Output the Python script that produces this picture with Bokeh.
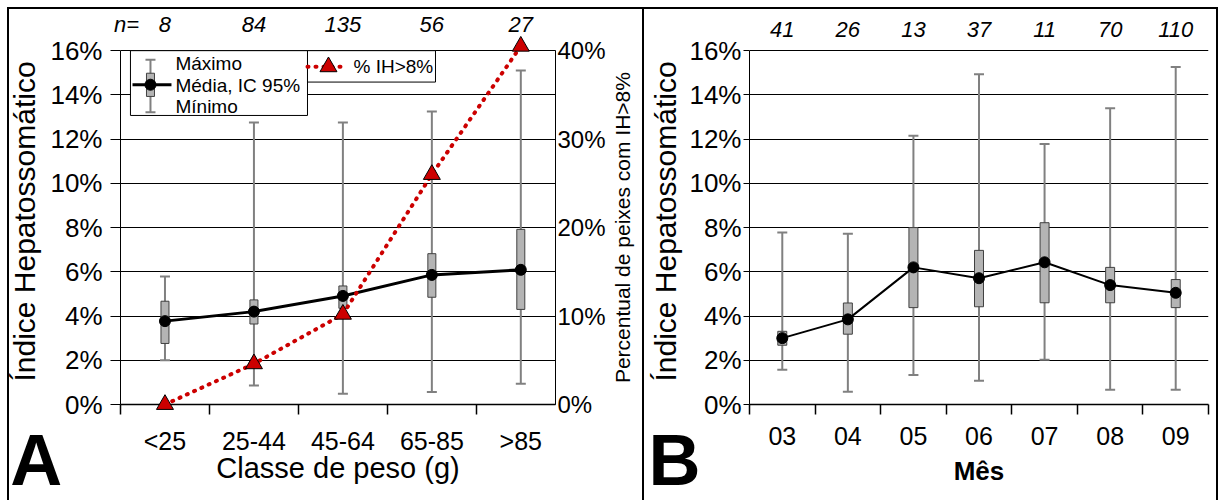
import math

from bokeh.plotting import figure
from bokeh.layouts import row
from bokeh.models import Range1d, LinearAxis, FixedTicker, PrintfTickFormatter, Grid
from bokeh.core.properties import value
from bokeh.embed import file_html
from bokeh.resources import INLINE

FONT = "Liberation Sans"

# ---------------- data ----------------
# Panel A: hepatosomatic index (%) by weight class
weight_classes = ["<25", "25-44", "45-64", "65-85", ">85"]
n_weight = [8, 84, 135, 56, 27]
mean_w = [3.77, 4.20, 4.91, 5.86, 6.09]
ci_low_w = [2.76, 3.64, 4.35, 4.85, 4.30]
ci_high_w = [4.67, 4.73, 5.36, 6.82, 7.92]
min_w = [2.00, 0.86, 0.49, 0.56, 0.94]
max_w = [5.79, 12.75, 12.75, 13.25, 15.10]
pct_above8 = [0.0, 4.6, 10.2, 26.0, 40.5]   # % of fish with IH > 8%

# Panel B: hepatosomatic index (%) by month
months = ["03", "04", "05", "06", "07", "08", "09"]
n_month = [41, 26, 13, 37, 11, 70, 110]
mean_m = [3.00, 3.85, 6.20, 5.71, 6.43, 5.40, 5.05]
ci_low_m = [2.68, 3.18, 4.38, 4.42, 4.60, 4.60, 4.38]
ci_high_m = [3.31, 4.59, 8.00, 6.97, 8.22, 6.20, 5.65]
min_m = [1.57, 0.58, 1.33, 1.07, 2.02, 0.67, 0.67]
max_m = [7.78, 7.72, 12.15, 14.93, 11.78, 13.40, 15.26]

y_ticks = [0, 2, 4, 6, 8, 10, 12, 14, 16]
pct_ticks = [0, 10, 20, 30, 40]

Y_TOP = 16.55
WHISKER = "#808080"
BOX_FILL = "#b4b4b4"
BOX_LINE = "#404040"
RED = "#cc0000"


def make_fig(width, x_end, border_left, border_right):
    p = figure(width=width, height=500, x_range=Range1d(0.5, x_end),
               y_range=Range1d(0, Y_TOP), output_backend="svg",
               toolbar_location=None, x_axis_type=None, y_axis_type=None,
               min_border_left=border_left, min_border_right=border_right,
               min_border_top=38, min_border_bottom=96)
    p.outline_line_color = None
    p.background_fill_color = "white"
    p.border_fill_color = None
    p.add_layout(Grid(dimension=1, ticker=FixedTicker(ticks=y_ticks),
                      grid_line_color="black", grid_line_width=1))
    return p


def style_y_axis(ax, label_size, tick_out):
    ax.axis_label_text_font = FONT
    ax.axis_label_text_font_size = "30px"
    ax.axis_label_text_font_style = "normal"
    ax.axis_label_text_color = "black"
    ax.major_label_text_font = FONT
    ax.major_label_text_font_size = label_size
    ax.major_label_text_color = "black"
    ax.axis_line_color = "black"
    ax.major_tick_line_color = "black"
    ax.major_tick_out = tick_out
    ax.major_tick_in = 0
    ax.minor_tick_line_color = None


def add_x_axis(p, labels, title, bold, title_standoff):
    k = len(labels)
    centers = list(range(1, k + 1))
    bounds_ticks = [c - 0.5 for c in centers] + ([k + 0.5] if bold else [])
    ax = LinearAxis(ticker=FixedTicker(ticks=centers, minor_ticks=bounds_ticks),
                    major_label_overrides={c: lab for c, lab in zip(centers, labels)})
    ax.axis_label = title
    ax.axis_label_text_font = FONT
    ax.axis_label_text_font_size = "26px" if bold else "29px"
    ax.axis_label_text_font_style = "bold" if bold else "normal"
    ax.axis_label_text_color = "black"
    ax.axis_label_standoff = title_standoff
    ax.major_label_text_font = FONT
    ax.major_label_text_font_size = "25px"
    ax.major_label_text_color = "black"
    ax.major_label_standoff = 12
    ax.axis_line_color = "black"
    ax.axis_line_width = 1.5
    ax.major_tick_line_color = None
    ax.major_tick_out = 0
    ax.major_tick_in = 0
    ax.minor_tick_line_color = "black"
    ax.minor_tick_line_width = 1.5
    ax.minor_tick_out = 10
    ax.minor_tick_in = 0
    p.add_layout(ax, "below")


def add_n_axis(p, counts, extra=None):
    ticks = list(range(1, len(counts) + 1))
    overrides = {t: str(c) for t, c in zip(ticks, counts)}
    if extra is not None:
        ticks = [extra[0]] + ticks
        overrides[extra[0]] = extra[1]
    ax = LinearAxis(ticker=FixedTicker(ticks=ticks), major_label_overrides=overrides)
    ax.axis_line_color = None
    ax.major_tick_line_color = None
    ax.minor_tick_line_color = None
    ax.major_tick_out = 0
    ax.major_tick_in = 0
    ax.major_label_standoff = 2
    ax.major_label_text_font = FONT
    ax.major_label_text_font_size = "22px"
    ax.major_label_text_font_style = "italic"
    ax.major_label_text_color = "black"
    p.add_layout(ax, "above")


def draw_stats(p, x, lo, hi, ci_lo, ci_hi, mean, box_w, mean_w_line):
    p.segment(x0=x, y0=lo, x1=x, y1=hi, line_color=WHISKER, line_width=2)
    p.scatter(x, hi, marker="dash", size=10, line_color=WHISKER, line_width=2)
    p.scatter(x, lo, marker="dash", size=10, line_color=WHISKER, line_width=2)
    p.vbar(x=x, bottom=ci_lo, top=ci_hi, width=box_w, fill_color=BOX_FILL,
           line_color=BOX_LINE, line_width=1)
    p.line(x, mean, line_color="black", line_width=mean_w_line)
    p.scatter(x, mean, marker="circle", size=11, fill_color="black", line_color="black")


def panel_letter(p, x, text):
    # overlay-level text is painted outside the plot frame as well
    p.text(x=[x], y=[-0.68], text=[text], text_font=value(FONT), text_font_size="72px",
           text_font_style="bold", text_color="black", text_baseline="top",
           text_align="left", level="overlay")


# ---------------- panel A ----------------
xa = list(range(1, len(weight_classes) + 1))
pa = make_fig(643, 5.39, 120, 88)
pa.extra_y_ranges = {"pct": Range1d(0, Y_TOP * 2.5)}

ya = LinearAxis(ticker=FixedTicker(ticks=y_ticks), formatter=PrintfTickFormatter(format="%d%%"),
                bounds=(0, 16), axis_label="Índice Hepatossomático")
style_y_axis(ya, "26px", 10)
ya.major_label_standoff = 8
ya.axis_label_standoff = 6
pa.add_layout(ya, "left")

ra = LinearAxis(y_range_name="pct",
                ticker=FixedTicker(ticks=pct_ticks, minor_ticks=[5, 15, 25, 35]),
                formatter=PrintfTickFormatter(format="%d%%"), bounds=(0, 40))
style_y_axis(ra, "24px", 0)
ra.major_tick_in = 6
ra.minor_tick_line_color = "black"
ra.minor_tick_in = 6
ra.minor_tick_out = 0
ra.major_label_standoff = 2
pa.add_layout(ra, "right")
# secondary axis title, reading bottom to top
pa.text(x=[6.143], y=[8.0], text=["Percentual de peixes com IH>8%"], angle=math.pi / 2,
        text_font=value(FONT), text_font_size="21px", text_color="black",
        text_align="center", text_baseline="middle", level="overlay")

add_x_axis(pa, weight_classes, "Classe de peso (g)", False, -6)
add_n_axis(pa, n_weight, extra=(0.567, "n="))

draw_stats(pa, xa, min_w, max_w, ci_low_w, ci_high_w, mean_w, 0.09, 3)
pa.line(xa, pct_above8, y_range_name="pct", line_color=RED, line_width=4,
        line_dash="1 7", line_cap="round")
pa.scatter(xa, pct_above8, y_range_name="pct", marker="triangle", size=17,
           fill_color=RED, line_color="black", line_width=1, level="overlay")

# legend (drawn in the left axis units)
pa.quad(left=[0.612, 2.602], right=[2.602, 4.041], top=[16.0, 16.0], bottom=[13.07, 14.58],
        fill_color="white", line_color="black", line_width=1)
pa.segment(x0=[0.837], y0=[13.22], x1=[0.837], y1=[15.59], line_color=WHISKER, line_width=2)
pa.scatter([0.837, 0.837], [13.22, 15.59], marker="dash", size=10, line_color=WHISKER, line_width=2)
pa.vbar(x=[0.837], bottom=[13.93], top=[14.98], width=0.09, fill_color=BOX_FILL,
        line_color=BOX_LINE, line_width=1)
pa.line([0.635, 1.073], [14.46, 14.46], line_color="black", line_width=3)
pa.scatter([0.837], [14.46], marker="circle", size=11, fill_color="black", line_color="black")
pa.text(x=[1.118, 1.118, 1.118], y=[15.43, 14.41, 13.46],
        text=["Máximo", "Média, IC 95%", "Mínimo"], text_font=value(FONT),
        text_font_size="19px", text_baseline="middle", text_align="left", text_color="black")
pa.line([2.602, 3.029], [15.27, 15.27], line_color=RED, line_width=4, line_dash="1 7", line_cap="round")
pa.scatter([2.838], [15.27], marker="triangle", size=17, fill_color=RED, line_color="black")
pa.text(x=[3.119], y=[15.27], text=["% IH>8%"], text_font=value(FONT),
        text_font_size="19px", text_baseline="middle", text_align="left", text_color="black")

panel_letter(pa, -0.74, "A")

# ---------------- panel B ----------------
xb = list(range(1, len(months) + 1))
pb = make_fig(579, 7.5, 106, 14)

yb = LinearAxis(ticker=FixedTicker(ticks=y_ticks), formatter=PrintfTickFormatter(format="%d%%"),
                bounds=(0, 16), axis_label="Índice Hepatossomático")
style_y_axis(yb, "26px", 6)
yb.major_label_standoff = 2
yb.axis_label_standoff = 4
pb.add_layout(yb, "left")

add_x_axis(pb, months, "Mês", True, 8)
add_n_axis(pb, n_month)

draw_stats(pb, xb, min_m, max_m, ci_low_m, ci_high_m, mean_m, 0.137, 2)

panel_letter(pb, -1.04, "B")

# panel frames: thin black rules around each panel, painted as the page background
black = "linear-gradient(#000, #000)"
layout = row(pa, pb, styles={
    "background-color": "white",
    "background-image": ", ".join([black] * 4),
    "background-size": "2px 100%, 1211px 2px, 2px 100%, 2px 100%",
    "background-position": "7px 7px, 7px 7px, 642px 7px, 1216px 7px",
    "background-repeat": "no-repeat",
})
open("out.html", "w").write(file_html(layout, INLINE))
